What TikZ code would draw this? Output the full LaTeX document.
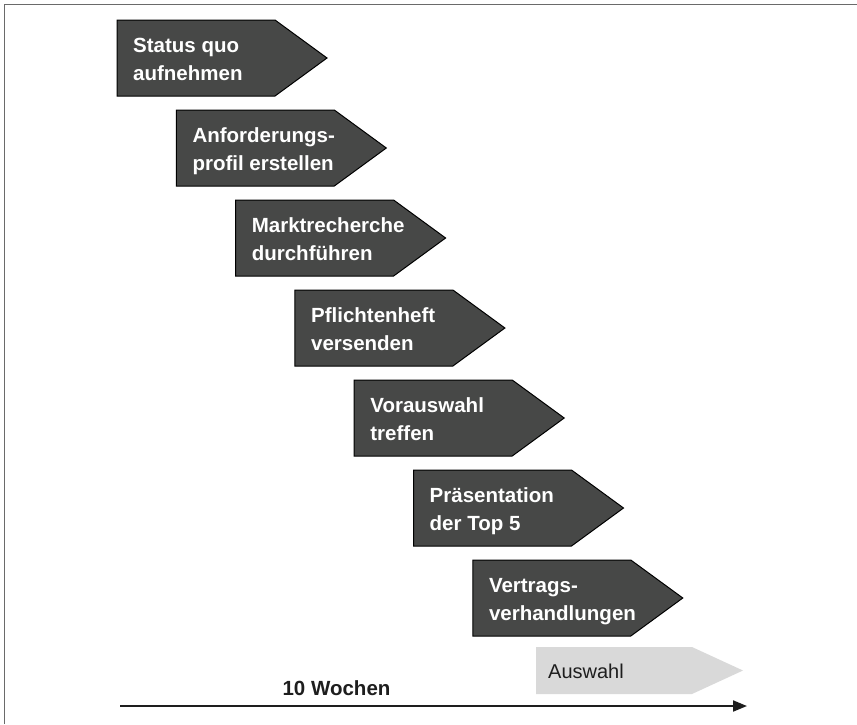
\documentclass[tikz,border=0pt]{standalone}
\usepackage{fontspec}
\setmainfont{Liberation Sans}
\usetikzlibrary{arrows.meta}
\definecolor{phasefill}{HTML}{474847}
\definecolor{framegray}{HTML}{6A6A6A}
\definecolor{selectfill}{HTML}{D9D9D9}
\definecolor{inkdark}{HTML}{1E1E1E}
\begin{document}
\begin{tikzpicture}[x=1pt,y=-1pt,
  phase/.style={draw=black, line width=1pt, fill=phasefill},
  phasetext/.style={anchor=base west, inner sep=0pt, text=white,
    font=\fontsize{20.5}{28}\selectfont\bfseries},
  selection/.style={fill=selectfill},
  timeline/.style={line width=2pt, inkdark, -{Triangle[length=14pt,width=11pt]}},
]
\useasboundingbox (0,0) rectangle (857,724);
% outer frame (left and top edges)
\draw[framegray, line width=1.6pt] (4.5,724) -- (4.5,4.5) -- (857,4.5);

% staircase of project phases
\foreach \i/\nm/\la/\lb in {
  0/status/Status quo/aufnehmen,
  1/anforderung/Anforderungs-/profil erstellen,
  2/markt/Marktrecherche/durchführen,
  3/pflicht/Pflichtenheft/versenden,
  4/vorauswahl/Vorauswahl/treffen,
  5/praesentation/Präsentation/der Top 5,
  6/vertrag/Vertrags-/verhandlungen}{
  \pgfmathsetmacro\xl{117+59.3*\i}
  \pgfmathsetmacro\yt{20+90*\i}
  \draw[phase] (\xl,\yt) -- ++(158,0) -- ++(52,38) -- ++(-52,38) -- ++(-158,0) -- cycle;
  \node[phasetext] (\nm) at (\xl+16,\yt+32)
    {\begin{tabular}[t]{@{}l@{}}\la\\\lb\end{tabular}};
}

% final selection bar
\fill[selection] (536,647) -- (692,647) -- (743,670.5) -- (692,694) -- (536,694) -- cycle;
\node[anchor=base west, inner sep=0pt, text=inkdark,
  font=\fontsize{20}{24}\selectfont] (auswahl) at (548,678) {Auswahl};

% time axis
\coordinate (tstart) at (120,706);
\coordinate (tend) at (747,706);
\draw[timeline] (tstart) -- (tend);
\node[anchor=base, inner sep=0pt, text=inkdark,
  font=\fontsize{20.5}{24}\selectfont\bfseries] (weeks) at (336.5,695) {10 Wochen};
\end{tikzpicture}
\end{document}
